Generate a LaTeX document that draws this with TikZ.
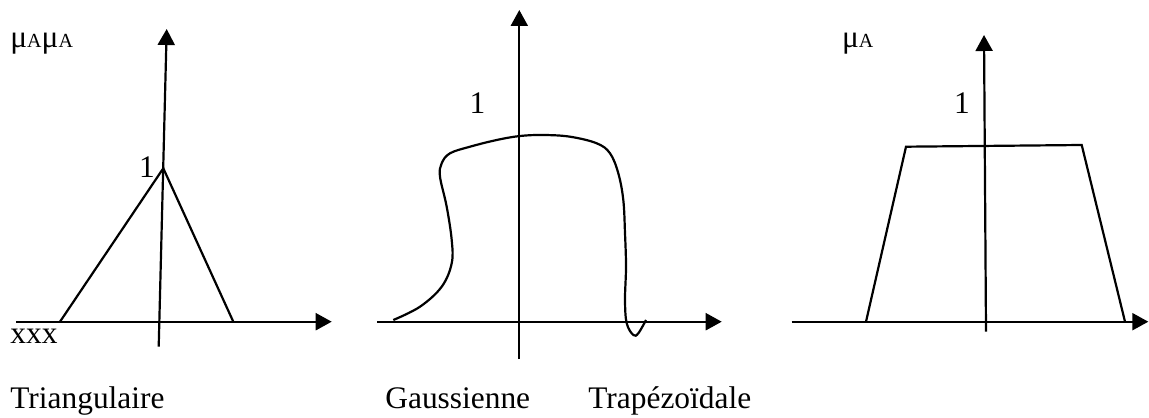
\documentclass[tikz,border=0pt]{standalone}
\usepackage{fontspec}
\setmainfont{Liberation Serif}
\usetikzlibrary{arrows.meta}
\newcommand{\muA}{μ{\fontsize{10}{11}\selectfont A}}
\tikzset{
  axisline/.style={-{Triangle[length=8pt,width=8.5pt]},line width=1.1pt},
  mfline/.style={line width=1.1pt,line join=miter},
  labeltext/.style={font=\fontsize{15.7}{18}\selectfont,inner sep=0pt}
}
\begin{document}
\begin{tikzpicture}[x=0.5pt,y=-0.5pt]
\useasboundingbox (0,0) rectangle (1149,417);
% triangulaire
\coordinate (tXa) at (16,321.7);
\coordinate (tXb) at (331.7,321.7);
\coordinate (tYa) at (158.7,346.7);
\coordinate (tYb) at (166.7,29);
\coordinate (tL) at (60,321.7);
\coordinate (tP) at (163.3,168.3);
\coordinate (tR) at (233.3,321.7);
\draw[axisline] (tXa) -- (tXb);
\draw[axisline] (tYa) -- (tYb);
\draw[mfline] (tL) -- (tP) -- (tR);
\node[labeltext,anchor=base west] (tMu) at (10,48) {\muA\muA};
\node[labeltext,anchor=base] (tOne) at (147,177) {1};
\node[labeltext,anchor=base west] (tXs) at (10,343) {xxx};
\node[labeltext,anchor=base west] (tName) at (10,408) {Triangulaire};
% gaussienne
\coordinate (gXa) at (377.3,321.7);
\coordinate (gXb) at (721.7,321.7);
\coordinate (gYa) at (519.3,359);
\coordinate (gYb) at (519.3,10);
\draw[axisline] (gXa) -- (gXb);
\draw[axisline] (gYa) -- (gYb);
\draw[mfline] plot[smooth,tension=0.6] coordinates {
  (393.3,320) (420,306.7) (441.7,286.7) (451.7,263.3) (451.7,240)
  (446.7,206.7) (440,176.7) (441.7,163.3) (450,153.3) (470,146.7)
  (496.7,140) (520,136) (543.3,135) (570,136.7) (596.7,143.3)
  (610,153.3) (618.3,173.3) (623.3,200) (625,233.3) (626,266.7)
  (625,300) (626.7,323.3) (633.3,335) (638.3,333.3) (646,320)};
\node[labeltext,anchor=base] (gOne) at (477.5,113) {1};
\node[labeltext,anchor=base west] (gName) at (385,408) {Gaussienne};
% trapezoidale
\coordinate (zXa) at (791.7,321.7);
\coordinate (zXb) at (1148.3,321.7);
\coordinate (zYa) at (986,331.7);
\coordinate (zYb) at (984,35);
\draw[axisline] (zXa) -- (zXb);
\draw[axisline] (zYa) -- (zYb);
\draw[mfline] (866,321.7) -- (906,146.7) -- (1081.7,145) -- (1125,321.7);
\node[labeltext,anchor=base] (zOne) at (962,113) {1};
\node[labeltext,anchor=base west] (zMu) at (841.7,48) {\muA};
\node[labeltext,anchor=base west] (zName) at (588,408) {Trapézoïdale};
\end{tikzpicture}
\end{document}
